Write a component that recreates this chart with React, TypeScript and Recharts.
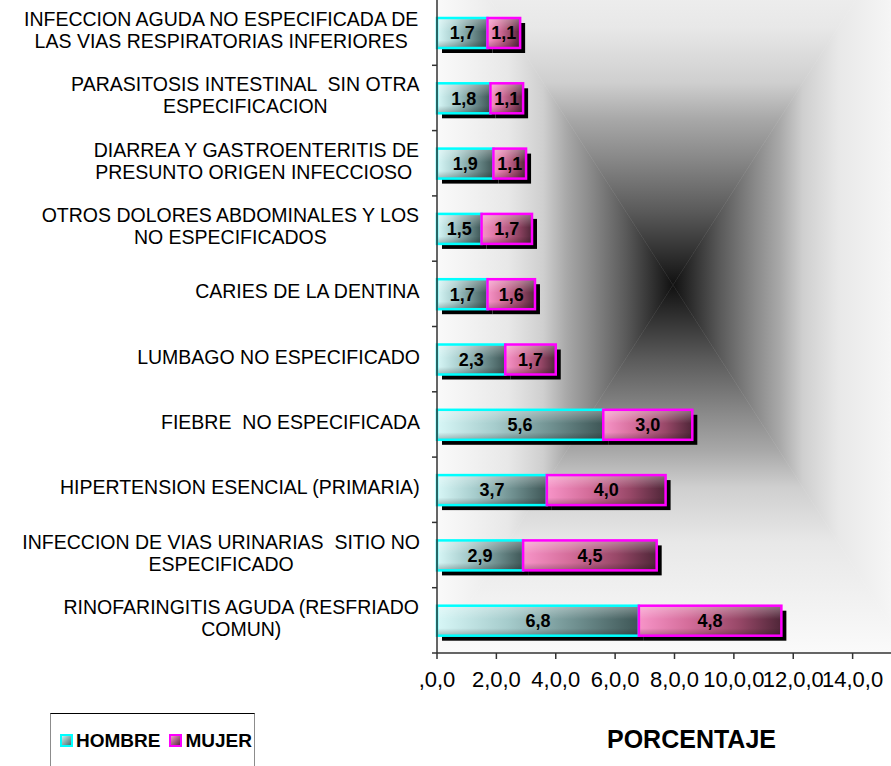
import { BarChart, Bar, XAxis, YAxis, LabelList } from 'recharts'

const categories = [
  'INFECCION AGUDA NO ESPECIFICADA DE\nLAS VIAS RESPIRATORIAS INFERIORES',
  'PARASITOSIS INTESTINAL  SIN OTRA\nESPECIFICACION',
  'DIARREA Y GASTROENTERITIS DE\nPRESUNTO ORIGEN INFECCIOSO ',
  'OTROS DOLORES ABDOMINALES Y LOS\nNO ESPECIFICADOS',
  'CARIES DE LA DENTINA',
  'LUMBAGO NO ESPECIFICADO',
  'FIEBRE  NO ESPECIFICADA',
  'HIPERTENSION ESENCIAL (PRIMARIA)',
  'INFECCION DE VIAS URINARIAS  SITIO NO\nESPECIFICADO',
  'RINOFARINGITIS AGUDA (RESFRIADO\nCOMUN)',
]
const hombre = [1.7, 1.8, 1.9, 1.5, 1.7, 2.3, 5.6, 3.7, 2.9, 6.8]
const mujer = [1.1, 1.1, 1.1, 1.7, 1.6, 1.7, 3.0, 4.0, 4.5, 4.8]
const xTicks = [0, 2, 4, 6, 8, 10, 12, 14]
const xTickLabels = [',0,0', '2,0,0', '4,0,0', '6,0,0', '8,0,0', '10,0,0', '12,0,0', '14,0,0']

const data = categories.map((c, i) => ({ name: c, hombre: hombre[i], mujer: mujer[i] }))

const W = 891
const H = 766
const CHART_W = 950
const PLOT_LEFT = 437
const PLOT_RIGHT = 912
const PLOT_BOTTOM = 653
const BAND = PLOT_BOTTOM / categories.length
const FONT = "'Liberation Sans', Arial, sans-serif"
const CAT_SIZE = 19.5

// "from center" rectangle gradient behind the plot
const BG = { cx: 673, cy: 285, left: 437, right: 909, top: -83, bottom: 653 }
const bgStops: [number, string][] = [
  [0, '#fafafa'],
  [0.3, '#e8e8e8'],
  [0.45, '#cfcfcf'],
  [0.55, '#a8a8a8'],
  [0.65, '#8a8a8a'],
  [0.8, '#5a5a5a'],
  [0.92, '#2e2e2e'],
  [1, '#111111'],
]

let ctx: CanvasRenderingContext2D | null = null
function textWidth(s: string, font: string) {
  if (!ctx) ctx = document.createElement('canvas').getContext('2d')
  if (!ctx) return s.length * 10
  ctx.font = font
  return ctx.measureText(s).width
}

function CategoryTick({ y, payload }: any) {
  const lines = String(payload.value).split('\n')
  const font = `${CAT_SIZE}px ${FONT}`
  const block = Math.max(...lines.map(l => textWidth(l, font)))
  const cx = PLOT_LEFT - 17 - block / 2
  const start = y - 2.5 - (lines.length - 1) * 11
  return (
    <g>
      <line x1={PLOT_LEFT - 5} x2={PLOT_LEFT} y1={y + BAND / 2} y2={y + BAND / 2} stroke="#333" strokeWidth={1.5} />
      {lines.map((l, i) => (
        <text
          key={i}
          x={cx}
          y={start + i * 22 + 7}
          textAnchor="middle"
          fontSize={CAT_SIZE}
          fontFamily={FONT}
          fill="#000"
          xmlSpace="preserve"
        >
          {l}
        </text>
      ))}
    </g>
  )
}

function makeShape(grad: string, stroke: string) {
  return (props: any) => {
    const { x, y, width, height } = props
    if (!width || width <= 0) return <g />
    return (
      <g>
        <rect x={x + 5} y={y + 5} width={width} height={height} fill="#000" />
        <rect x={x} y={y} width={width} height={height} fill={`url(#${grad})`} />
        <rect x={x} y={y} width={width} height={height} fill="url(#gloss)" />
        <rect x={x} y={y} width={width} height={height} fill="none" stroke={stroke} strokeWidth={2.5} />
      </g>
    )
  }
}

const fmt = (v: any) => Number(v).toFixed(1).replace('.', ',')

function Background() {
  const { cx, cy, left, right, top, bottom } = BG
  const stops = bgStops.map(([o, c]) => <stop key={o} offset={o} stopColor={c} />)
  return (
    <svg width={W} height={H} style={{ position: 'absolute', left: 0, top: 0 }}>
      <defs>
        <linearGradient id="bgL" gradientUnits="userSpaceOnUse" x1={left} y1={0} x2={cx} y2={0}>{stops}</linearGradient>
        <linearGradient id="bgR" gradientUnits="userSpaceOnUse" x1={right} y1={0} x2={cx} y2={0}>{stops}</linearGradient>
        <linearGradient id="bgT" gradientUnits="userSpaceOnUse" x1={0} y1={top} x2={0} y2={cy}>{stops}</linearGradient>
        <linearGradient id="bgB" gradientUnits="userSpaceOnUse" x1={0} y1={bottom} x2={0} y2={cy}>{stops}</linearGradient>
      </defs>
      <polygon points={`${left},${top} ${right},${top} ${cx},${cy}`} fill="url(#bgT)" stroke="url(#bgT)" strokeWidth={0.5} />
      <polygon points={`${left},${bottom} ${right},${bottom} ${cx},${cy}`} fill="url(#bgB)" stroke="url(#bgB)" strokeWidth={0.5} />
      <polygon points={`${left},${top} ${left},${bottom} ${cx},${cy}`} fill="url(#bgL)" stroke="url(#bgL)" strokeWidth={0.5} />
      <polygon points={`${right},${top} ${right},${bottom} ${cx},${cy}`} fill="url(#bgR)" stroke="url(#bgR)" strokeWidth={0.5} />
    </svg>
  )
}

function Swatch({ a, b, border }: { a: string; b: string; border: string }) {
  return (
    <span
      style={{
        display: 'inline-block',
        width: 9,
        height: 9,
        border: `2px solid ${border}`,
        background: `linear-gradient(135deg, ${a}, ${b})`,
        marginRight: 3,
      }}
    />
  )
}

export default function App() {
  return (
    <div style={{ position: 'absolute', left: 0, top: 0, width: W, height: H, overflow: 'hidden', background: '#fff' }}>
      <Background />
      <div style={{ position: 'absolute', left: 0, top: 0 }}>
        <BarChart
          width={CHART_W}
          height={H}
          data={data}
          layout="vertical"
          margin={{ top: 0, right: CHART_W - PLOT_RIGHT, bottom: 0, left: 0 }}
          barSize={30}
        >
          <defs>
            <linearGradient id="gH" x1="0" y1="0" x2="1" y2="0">
              <stop offset="0" stopColor="#d8f7f7" />
              <stop offset="0.35" stopColor="#a6cccc" />
              <stop offset="0.7" stopColor="#6e8e8e" />
              <stop offset="1" stopColor="#3e5656" />
            </linearGradient>
            <linearGradient id="gM" x1="0" y1="0" x2="1" y2="0">
              <stop offset="0" stopColor="#f794c8" />
              <stop offset="0.35" stopColor="#d46d9a" />
              <stop offset="0.7" stopColor="#984868" />
              <stop offset="1" stopColor="#4f2638" />
            </linearGradient>
            <linearGradient id="gloss" x1="0" y1="0" x2="0" y2="1">
              <stop offset="0" stopColor="#fff" stopOpacity={0.35} />
              <stop offset="0.45" stopColor="#fff" stopOpacity={0} />
              <stop offset="0.75" stopColor="#000" stopOpacity={0} />
              <stop offset="1" stopColor="#000" stopOpacity={0.25} />
            </linearGradient>
          </defs>
          <XAxis
            type="number"
            domain={[0, 16]}
            ticks={xTicks}
            interval={0}
            height={H - PLOT_BOTTOM}
            tickFormatter={(v: number) => xTickLabels[xTicks.indexOf(v)] ?? String(v)}
            tick={{ fill: '#000', fontSize: 22, fontFamily: FONT }}
            tickSize={6}
            tickMargin={12}
            axisLine={{ stroke: '#333', strokeWidth: 1.5 }}
            tickLine={{ stroke: '#333', strokeWidth: 1.5 }}
            label={{
              value: 'PORCENTAJE',
              position: 'insideBottom',
              offset: 18,
              dx: 17,
              fill: '#000',
              fontSize: 25,
              fontWeight: 'bold',
              fontFamily: FONT,
            }}
          />
          <YAxis
            type="category"
            dataKey="name"
            width={PLOT_LEFT}
            interval={0}
            tick={<CategoryTick />}
            tickLine={false}
            axisLine={{ stroke: '#333', strokeWidth: 1.5 }}
          />
          <Bar dataKey="hombre" name="HOMBRE" stackId="a" isAnimationActive={false} shape={makeShape('gH', '#00ffff')}>
            <LabelList dataKey="hombre" position="center" formatter={fmt} fill="#000" fontSize={18} fontWeight="bold" fontFamily={FONT} />
          </Bar>
          <Bar dataKey="mujer" name="MUJER" stackId="a" isAnimationActive={false} shape={makeShape('gM', '#ff00ff')}>
            <LabelList dataKey="mujer" position="center" formatter={fmt} fill="#000" fontSize={18} fontWeight="bold" fontFamily={FONT} />
          </Bar>
        </BarChart>
      </div>
      <div
        style={{
          position: 'absolute',
          left: 50,
          top: 713,
          width: 205,
          height: 60,
          borderTop: '1px solid #000',
          borderLeft: '1.5px solid #8c8c8c',
          borderRight: '1.5px solid #8c8c8c',
          boxSizing: 'border-box',
          padding: '16px 0 0 9px',
          fontFamily: FONT,
          fontWeight: 'bold',
          fontSize: 19,
          color: '#000',
          whiteSpace: 'nowrap',
        }}
      >
        <Swatch a="#c8eeee" b="#4e6e6e" border="#00ffff" />
        <span style={{ marginRight: 9 }}>HOMBRE</span>
        <Swatch a="#f2a0c8" b="#5a2a40" border="#ff00ff" />
        <span>MUJER</span>
      </div>
    </div>
  )
}
